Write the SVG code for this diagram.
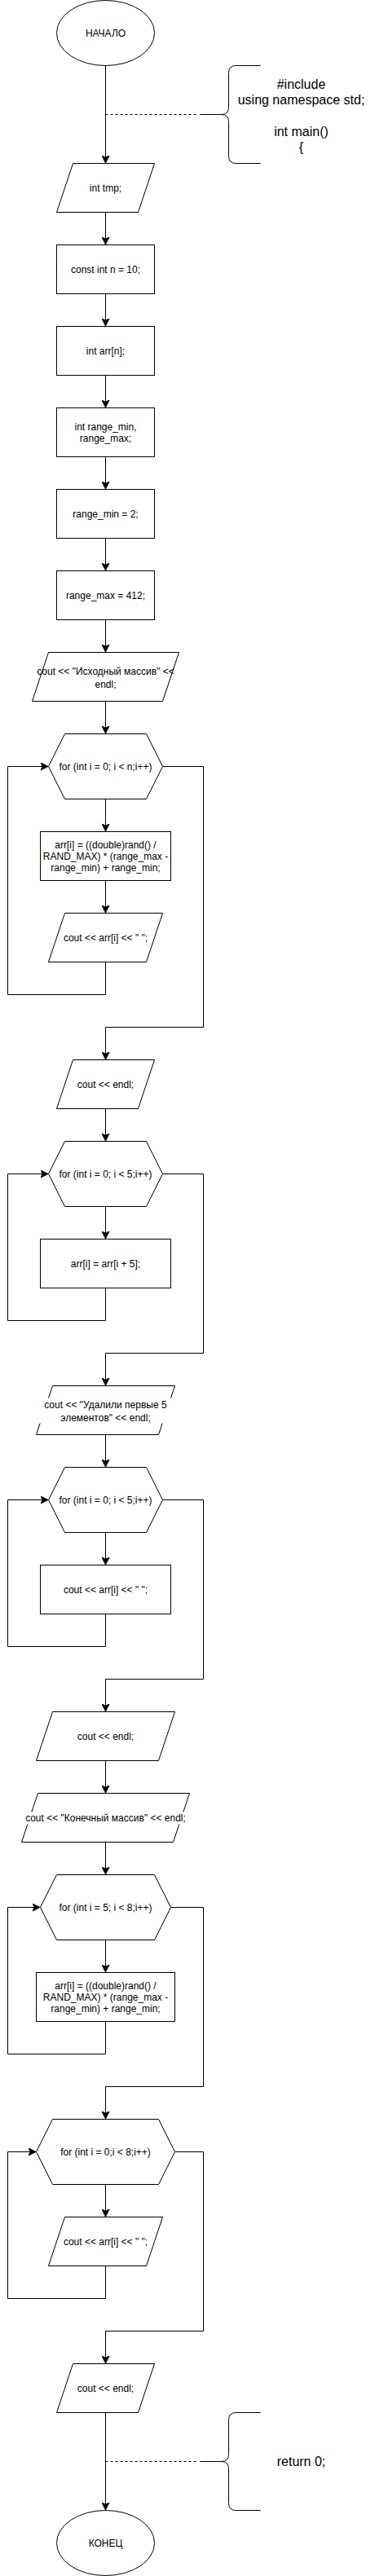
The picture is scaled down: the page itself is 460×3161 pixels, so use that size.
<svg xmlns="http://www.w3.org/2000/svg" width="460" height="3161" viewBox="0 0 460 3161">
<style>
.s{fill:#fff;stroke:#000;stroke-width:1}
.t{font-family:"Liberation Sans",Arial,Helvetica,sans-serif;font-size:12px;fill:#000;text-anchor:middle}
.c{font-family:"Liberation Sans",Arial,Helvetica,sans-serif;font-size:16px;fill:#000;text-anchor:middle}
.e{fill:none;stroke:#000;stroke-width:1}
.d{fill:none;stroke:#000;stroke-width:1;stroke-dasharray:3 3}
.b{fill:none;stroke:#000;stroke-width:1}
</style>
<defs>
<marker id="arr" markerUnits="userSpaceOnUse" viewBox="0 0 10 10" refX="10" refY="5" markerWidth="10" markerHeight="10" orient="auto">
<path d="M0,0 L10,5 L0,10 L2.5,5 Z" fill="#000" stroke="#000" stroke-width="0.5"/>
</marker>
</defs>
<rect x="0" y="0" width="460" height="3161" fill="#fff"/>
<g transform="translate(0.5,0.5)">
<g id="connectors">
<path class="e" d="M129,80 V200" marker-end="url(#arr)"/>
<path class="d" d="M129,140 H240"/>
<path class="e" d="M129,260 V300" marker-end="url(#arr)"/>
<path class="e" d="M129,360 V400" marker-end="url(#arr)"/>
<path class="e" d="M129,460 V500" marker-end="url(#arr)"/>
<path class="e" d="M129,560 V600" marker-end="url(#arr)"/>
<path class="e" d="M129,660 V700" marker-end="url(#arr)"/>
<path class="e" d="M129,760 V800" marker-end="url(#arr)"/>
<path class="e" d="M129,860 V900" marker-end="url(#arr)"/>
<path class="e" d="M129,980 V1020" marker-end="url(#arr)"/>
<path class="e" d="M129,1080 V1120" marker-end="url(#arr)"/>
<path class="e" d="M129,1180 V1220 H9 V940 H59" marker-end="url(#arr)"/>
<path class="e" d="M199,940 H249 V1260 H129 V1300" marker-end="url(#arr)"/>
<path class="e" d="M129,1360 V1400" marker-end="url(#arr)"/>
<path class="e" d="M129,1480 V1520" marker-end="url(#arr)"/>
<path class="e" d="M129,1580 V1620 H9 V1440 H59" marker-end="url(#arr)"/>
<path class="e" d="M199,1440 H249 V1660 H129 V1700" marker-end="url(#arr)"/>
<path class="e" d="M129,1760 V1800" marker-end="url(#arr)"/>
<path class="e" d="M129,1880 V1920" marker-end="url(#arr)"/>
<path class="e" d="M129,1980 V2020 H9 V1840 H59" marker-end="url(#arr)"/>
<path class="e" d="M199,1840 H249 V2060 H129 V2100" marker-end="url(#arr)"/>
<path class="e" d="M129,2160 V2200" marker-end="url(#arr)"/>
<path class="e" d="M129,2260 V2300" marker-end="url(#arr)"/>
<path class="e" d="M129,2380 V2420" marker-end="url(#arr)"/>
<path class="e" d="M129,2480 V2520 H9 V2340 H49" marker-end="url(#arr)"/>
<path class="e" d="M209,2340 H249 V2560 H129 V2600" marker-end="url(#arr)"/>
<path class="e" d="M129,2680 V2720" marker-end="url(#arr)"/>
<path class="e" d="M129,2780 V2820 H9 V2640 H44" marker-end="url(#arr)"/>
<path class="e" d="M214,2640 H249 V2860 H129 V2900" marker-end="url(#arr)"/>
<path class="e" d="M129,2960 V3080" marker-end="url(#arr)"/>
<path class="d" d="M129,3020 H240"/>
</g>
<g id="start">
<ellipse class="s" cx="129" cy="40" rx="60" ry="40"/>
<text class="t" x="129" y="44">НАЧАЛО</text>
</g>
<g id="comment1">
<path class="b" d="M319,80 H289 Q280,80 280,89 V131 Q280,140 271,140 H245 M271,140 Q280,140 280,149 V191 Q280,200 289,200 H319"/>
<text class="c" x="369" y="108.4">#include</text>
<text class="c" x="369" y="127.6">using namespace std;</text>
<text class="c" x="369" y="166">int main()</text>
<text class="c" x="369" y="185.2">{</text>
</g>
<g id="tmp">
<polygon class="s" points="89,200 189,200 169,260 69,260"/>
<text class="t" x="129" y="234">int tmp;</text>
</g>
<g id="constn">
<rect class="s" x="69" y="300" width="120" height="60"/>
<text class="t" x="129" y="334">const int n = 10;</text>
</g>
<g id="arrn">
<rect class="s" x="69" y="400" width="120" height="60"/>
<text class="t" x="129" y="434">int arr[n];</text>
</g>
<g id="rangedecl">
<rect class="s" x="69" y="500" width="120" height="60"/>
<text class="t" x="129" y="527">int range_min,</text>
<text class="t" x="129" y="541.5">range_max;</text>
</g>
<g id="rangemin">
<rect class="s" x="69" y="600" width="120" height="60"/>
<text class="t" x="129" y="634">range_min = 2;</text>
</g>
<g id="rangemax">
<rect class="s" x="69" y="700" width="120" height="60"/>
<text class="t" x="129" y="734">range_max = 412;</text>
</g>
<g id="outsrc">
<polygon class="s" points="59,800 219,800 199,860 39,860"/>
<text class="t" x="129" y="827.5">cout &lt;&lt; "Исходный массив" &lt;&lt;</text>
<text class="t" x="129" y="843">endl;</text>
</g>
<g id="loop1">
<polygon class="s" points="79,900 179,900 199,940 179,980 79,980 59,940"/>
<text class="t" x="129" y="944">for (int i = 0; i &lt; n;i++)</text>
</g>
<g id="fill1">
<rect class="s" x="49" y="1020" width="160" height="60"/>
<text class="t" x="129" y="1040">arr[i] = ((double)rand() /</text>
<text class="t" x="129" y="1054.4">RAND_MAX) * (range_max -</text>
<text class="t" x="129" y="1068.8">range_min) + range_min;</text>
</g>
<g id="out1">
<polygon class="s" points="79,1120 199,1120 179,1180 59,1180"/>
<text class="t" x="129" y="1154">cout &lt;&lt; arr[i] &lt;&lt; " ";</text>
</g>
<g id="endl1">
<polygon class="s" points="89,1300 189,1300 169,1360 69,1360"/>
<text class="t" x="129" y="1334">cout &lt;&lt; endl;</text>
</g>
<g id="loop2">
<polygon class="s" points="79,1400 179,1400 199,1440 179,1480 79,1480 59,1440"/>
<text class="t" x="129" y="1444">for (int i = 0; i &lt; 5;i++)</text>
</g>
<g id="shift">
<rect class="s" x="49" y="1520" width="160" height="60"/>
<text class="t" x="129" y="1554">arr[i] = arr[i + 5];</text>
</g>
<g id="outdel">
<polygon class="s" points="64,1700 214,1700 194,1760 44,1760"/>
<rect x="46" y="1715" width="166" height="31" fill="#fff"/>
<text class="t" x="129" y="1727.5">cout &lt;&lt; "Удалили первые 5</text>
<text class="t" x="129" y="1743">элементов" &lt;&lt; endl;</text>
</g>
<g id="loop3">
<polygon class="s" points="79,1800 179,1800 199,1840 179,1880 79,1880 59,1840"/>
<text class="t" x="129" y="1844">for (int i = 0; i &lt; 5;i++)</text>
</g>
<g id="out2">
<rect class="s" x="49" y="1920" width="160" height="60"/>
<text class="t" x="129" y="1954">cout &lt;&lt; arr[i] &lt;&lt; " ";</text>
</g>
<g id="endl2">
<polygon class="s" points="64,2100 214,2100 194,2160 44,2160"/>
<text class="t" x="129" y="2134">cout &lt;&lt; endl;</text>
</g>
<g id="outfin">
<polygon class="s" points="46,2200 232,2200 212,2260 26,2260"/>
<rect x="30" y="2223" width="198" height="15" fill="#fff"/>
<text class="t" x="129" y="2234.5">cout &lt;&lt; "Конечный массив" &lt;&lt; endl;</text>
</g>
<g id="loop4">
<polygon class="s" points="69,2300 189,2300 209,2340 189,2380 69,2380 49,2340"/>
<text class="t" x="129" y="2344">for (int i = 5; i &lt; 8;i++)</text>
</g>
<g id="fill2">
<rect class="s" x="44" y="2420" width="170" height="60"/>
<text class="t" x="129" y="2440">arr[i] = ((double)rand() /</text>
<text class="t" x="129" y="2454.4">RAND_MAX) * (range_max -</text>
<text class="t" x="129" y="2468.8">range_min) + range_min;</text>
</g>
<g id="loop5">
<polygon class="s" points="64,2600 194,2600 214,2640 194,2680 64,2680 44,2640"/>
<text class="t" x="129" y="2644">for (int i = 0;i &lt; 8;i++)</text>
</g>
<g id="out3">
<polygon class="s" points="79,2720 199,2720 179,2780 59,2780"/>
<text class="t" x="129" y="2754">cout &lt;&lt; arr[i] &lt;&lt; " ";</text>
</g>
<g id="endl3">
<polygon class="s" points="89,2900 189,2900 169,2960 69,2960"/>
<text class="t" x="129" y="2934">cout &lt;&lt; endl;</text>
</g>
<g id="comment2">
<path class="b" d="M319,2960 H289 Q280,2960 280,2969 V3011 Q280,3020 271,3020 H245 M271,3020 Q280,3020 280,3029 V3071 Q280,3080 289,3080 H319"/>
<text class="c" x="369" y="3025.7">return 0;</text>
</g>
<g id="end">
<ellipse class="s" cx="129" cy="3120" rx="60" ry="40"/>
<text class="t" x="129" y="3124">КОНЕЦ</text>
</g>
</g>
</svg>
